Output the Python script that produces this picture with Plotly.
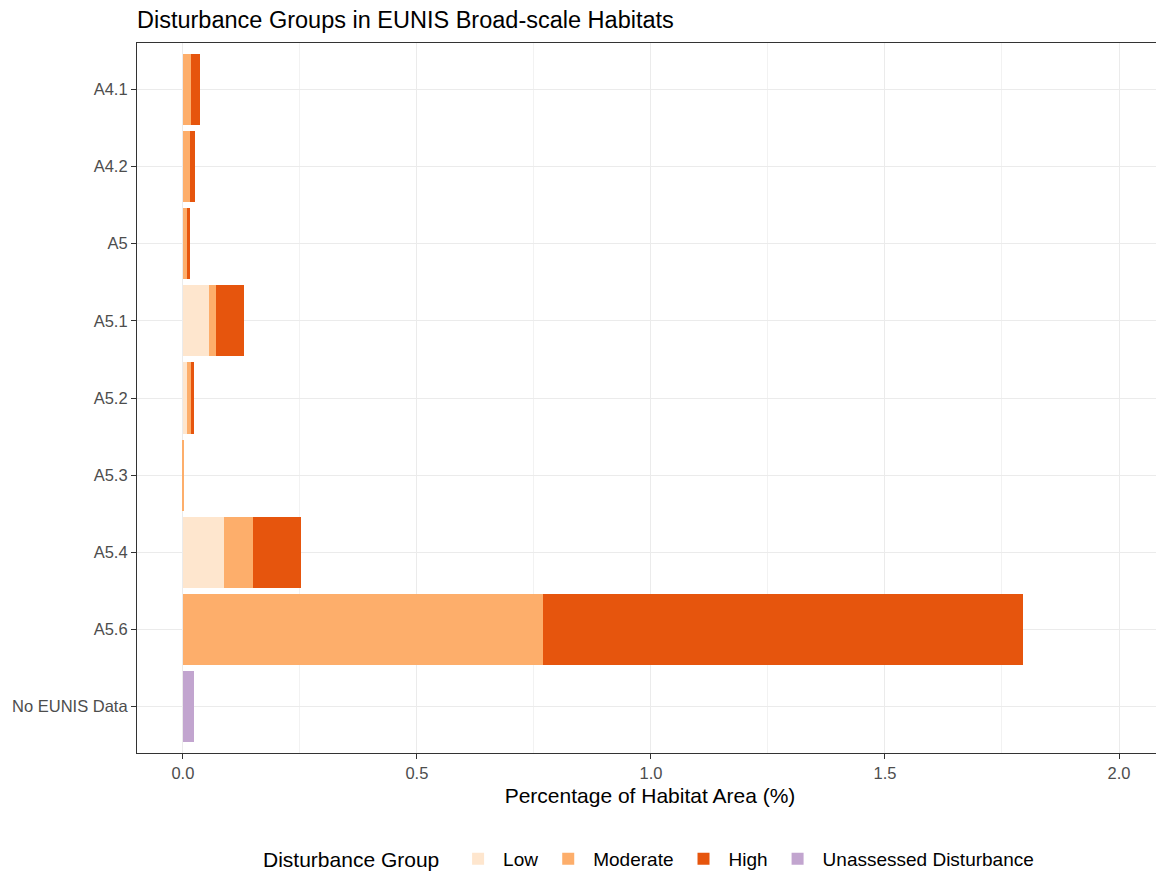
import plotly.graph_objects as go

categories = ["A4.1", "A4.2", "A5", "A5.1", "A5.2", "A5.3", "A5.4", "A5.6", "No EUNIS Data"]
low = [0, 0, 0, 0.0555, 0.009, 0, 0.0876, 0, 0]
moderate = [0.017, 0.016, 0.008, 0.0145, 0.009, 0.003, 0.063, 0.769, 0]
high = [0.020, 0.009, 0.007, 0.060, 0.006, 0, 0.102, 1.026, 0]
unassessed = [0, 0, 0, 0, 0, 0, 0, 0, 0.023]

series = [
    ("Low", low, "#FEE6CE"),
    ("Moderate", moderate, "#FDAE6B"),
    ("High", high, "#E6550D"),
    ("Unassessed Disturbance", unassessed, "#C2A5CF"),
]

fig = go.Figure()
for name, vals, col in series:
    fig.add_trace(go.Bar(
        y=categories, x=vals, name=name, orientation="h",
        marker=dict(color=col, line=dict(width=0)),
    ))

W, H = 1156, 873
font = "Liberation Sans, Arial, sans-serif"
fig.update_layout(
    barmode="stack",
    bargap=0.076,
    width=W, height=H,
    margin=dict(l=129, r=1, t=35, b=128),
    plot_bgcolor="white",
    paper_bgcolor="white",
    font=dict(family=font, color="#000000"),
    title=dict(text="Disturbance Groups in EUNIS Broad-scale Habitats",
               x=129/W, xanchor="left", y=1-12/H, yanchor="middle",
               font=dict(size=23.5, color="#000000", family=font)),
    xaxis=dict(
        range=[-0.098, 2.094],
        tickvals=[0, 0.5, 1.0, 1.5, 2.0],
        ticktext=["0.0", "0.5", "1.0", "1.5", "2.0"],
        showgrid=True, gridcolor="#EBEBEB", gridwidth=1.2,
        minor=dict(tickvals=[0.25, 0.75, 1.25, 1.75], showgrid=True, gridcolor="#F2F2F2", gridwidth=0.7),
        ticks="outside", ticklen=5, tickcolor="#333333", tickwidth=1.2,
        tickfont=dict(size=16.5, color="#4D4D4D"),
        showline=True, linecolor="#333333", linewidth=1.2, mirror=True,
        zeroline=False,
        title=dict(text="Percentage of Habitat Area (%)", font=dict(size=21, color="#000000"), standoff=7),
    ),
    yaxis=dict(
        categoryorder="array", categoryarray=categories,
        range=[8.6, -0.6],
        showgrid=True, gridcolor="#EBEBEB", gridwidth=1.2,
        ticks="outside", ticklen=5, tickcolor="#333333", tickwidth=1.2,
        tickfont=dict(size=16.5, color="#4D4D4D"),
        showline=True, linecolor="#333333", linewidth=1.2, mirror=True,
        zeroline=False,
    ),
    legend=dict(
        orientation="h", x=0.5, xanchor="center",
        y=-0.149, yanchor="middle",
        title=dict(text="Disturbance Group ", font=dict(size=21, color="#000000"), side="left"),
        font=dict(size=19, color="#000000"),
        itemsizing="constant", traceorder="normal", itemwidth=40,
    ),
)

fig.write_html("out.html")
